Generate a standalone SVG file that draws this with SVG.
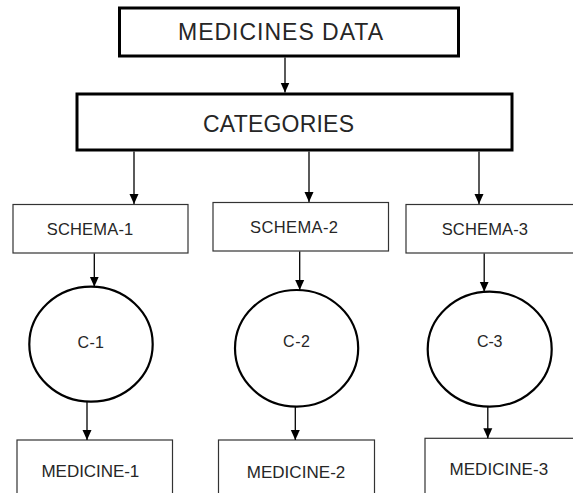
<svg xmlns="http://www.w3.org/2000/svg" width="573" height="493" viewBox="0 0 573 493">
<style>
.t{font-family:"Liberation Sans",Arial,sans-serif;fill:#262626}
.thick{fill:#fff;stroke:#000;stroke-width:3}
.thin{fill:#fff;stroke:#333;stroke-width:1.2}
.circ{fill:#fff;stroke:#000;stroke-width:2.2}
.conn{stroke:#000;stroke-width:1.3;fill:none;marker-end:url(#ah)}
</style>
<defs>
<marker id="ah" markerUnits="userSpaceOnUse" markerWidth="10" markerHeight="10" viewBox="0 0 10 10" refX="10" refY="5" orient="auto">
<path d="M0,0.5 L10,5 L0,9.5 z" fill="#000"/>
</marker>
</defs>
<rect width="573" height="493" fill="#fff"/>
<g id="n-medicines-data"><rect class="thick" x="119.5" y="8" width="339" height="48"/><text class="t" x="178" y="40" font-size="23" textLength="205">MEDICINES DATA</text></g>
<g id="n-categories"><rect class="thick" x="77" y="94" width="435" height="56"/><text class="t" x="203" y="131.5" font-size="23" textLength="151">CATEGORIES</text></g>
<g id="n-schema-1"><rect class="thin" x="13" y="204.5" width="175" height="48.5"/><text class="t" x="46.7" y="235" font-size="16.5" textLength="86.6">SCHEMA-1</text></g>
<g id="n-schema-2"><rect class="thin" x="213" y="202.5" width="175.5" height="48.5"/><text class="t" x="250" y="233.3" font-size="16.5" textLength="88">SCHEMA-2</text></g>
<g id="n-schema-3"><rect class="thin" x="406" y="204.5" width="176" height="48.5"/><text class="t" x="441.7" y="234.5" font-size="16.5" textLength="86.3">SCHEMA-3</text></g>
<g id="n-c1"><ellipse class="circ" cx="91" cy="344.2" rx="61.7" ry="57.5"/><text class="t" x="77.5" y="348.3" font-size="16" textLength="26.5">C-1</text></g>
<g id="n-c2"><ellipse class="circ" cx="296.6" cy="348.3" rx="61.6" ry="58.3"/><text class="t" x="283" y="346.7" font-size="16" textLength="27">C-2</text></g>
<g id="n-c3"><ellipse class="circ" cx="489.7" cy="349.2" rx="62" ry="57.5"/><text class="t" x="477" y="346.7" font-size="16" textLength="25.5">C-3</text></g>
<g id="n-medicine-1"><rect class="thin" x="17" y="440" width="155.5" height="60"/><text class="t" x="41.5" y="476.7" font-size="17" textLength="97.8">MEDICINE-1</text></g>
<g id="n-medicine-2"><rect class="thin" x="218.5" y="440" width="156" height="60"/><text class="t" x="246.7" y="477.5" font-size="17" textLength="98.6">MEDICINE-2</text></g>
<g id="n-medicine-3"><rect class="thin" x="425" y="438.3" width="160" height="60"/><text class="t" x="449.5" y="475" font-size="17" textLength="98.6">MEDICINE-3</text></g>
<g id="connectors">
<line class="conn" x1="285" y1="57.5" x2="285" y2="92.5"/>
<line class="conn" x1="134" y1="151.5" x2="134" y2="204"/>
<line class="conn" x1="309" y1="151.5" x2="309" y2="202"/>
<line class="conn" x1="479" y1="151.5" x2="479" y2="204"/>
<line class="conn" x1="94.3" y1="253.5" x2="94.3" y2="286.7"/>
<line class="conn" x1="299.7" y1="251.5" x2="299.7" y2="290"/>
<line class="conn" x1="484.2" y1="253.5" x2="484.2" y2="291.7"/>
<line class="conn" x1="87" y1="401.7" x2="87" y2="440"/>
<line class="conn" x1="295.3" y1="406.6" x2="295.3" y2="440"/>
<line class="conn" x1="487.8" y1="406.7" x2="487.8" y2="438.3"/>
</g>
</svg>
